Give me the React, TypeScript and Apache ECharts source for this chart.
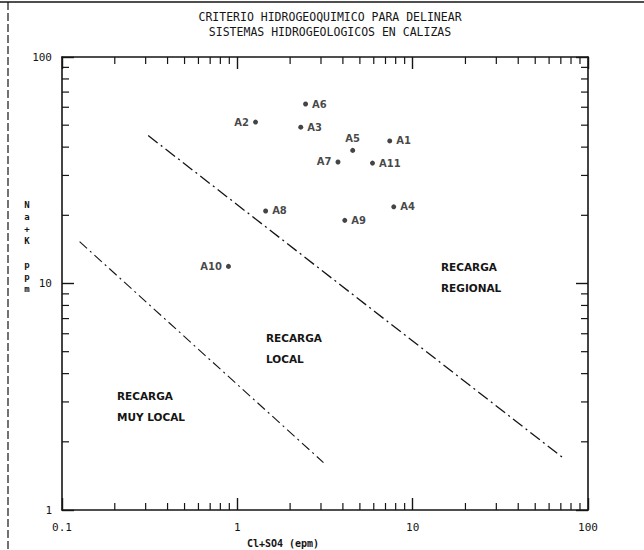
import React, { useEffect, useRef } from "react";
import * as echarts from "echarts";

// ---- data ----
const titleLines = ["CRITERIO HIDROGEOQUIMICO PARA DELINEAR", "SISTEMAS HIDROGEOLOGICOS EN CALIZAS"];
const xTitle = "Cl+SO4 (epm)";
const yTitleChars = ["N", "a", "+", "K", "", "p", "p", "m"];

const pointNames = ["A1", "A2", "A3", "A4", "A5", "A6", "A7", "A8", "A9", "A10", "A11"];
const pointX = [7.4, 1.27, 2.3, 7.8, 4.55, 2.45, 3.75, 1.45, 4.1, 0.89, 5.9];
const pointY = [42.6, 51.6, 49, 21.8, 38.7, 62, 34.4, 20.9, 19, 11.9, 34];
const labelPos = ["right", "left", "right", "right", "top", "right", "left", "right", "right", "left", "right"];

const upperLineX = [0.31, 72];
const upperLineY = [45, 1.7];
const lowerLineX = [0.126, 3.1];
const lowerLineY = [15.3, 1.62];

const xMin = 0.1, xMax = 100, yMin = 1, yMax = 100;
const xTickLabels = ["0.1", "1", "10", "100"];
const yTickLabels = ["1", "10", "100"];
const minorMultipliers = [2, 3, 4, 5, 6, 7, 8, 9];
const xDecades = [0.1, 1, 10];
const yDecades = [1, 10];

const regionTexts = [
  { lines: ["RECARGA", "REGIONAL"], x: 441, y: 267 },
  { lines: ["RECARGA", "LOCAL"], x: 266, y: 338 },
  { lines: ["RECARGA", "MUY LOCAL"], x: 117, y: 396 },
];

const INK = "#151515";
const MONO = "'DejaVu Sans Mono', monospace";
const SANS = "'DejaVu Sans', sans-serif";

export default function App() {
  const ref = useRef<HTMLDivElement>(null);
  useEffect(() => {
    document.body.style.margin = "0";
    const chart = echarts.init(ref.current!, null, { renderer: "svg" });

    const grid = { left: 62, top: 57, width: 526, height: 453 };

    const xMinorData: number[][] = [];
    xDecades.forEach((d) => minorMultipliers.forEach((m) => xMinorData.push([d * m, yMin])));
    const yMinorData: number[][] = [];
    yDecades.forEach((d) => minorMultipliers.forEach((m) => yMinorData.push([xMin, d * m])));

    const axisCommon = {
      type: "log" as const,
      logBase: 10,
      axisLine: { show: true, lineStyle: { color: INK, width: 1.6 } },
      axisTick: { show: true, inside: true, length: 12, lineStyle: { color: INK, width: 1.4 } },
      splitLine: { show: false },
      minorTick: { show: false },
    };

    const labelFmt = (arr: string[], base: number) => (v: number) => {
      const i = Math.round(Math.log10(v / base));
      return arr[i] ?? "";
    };

    const graphics: any[] = [];
    graphics.push({ type: "line", shape: { x1: 0, y1: 2, x2: 644, y2: 2 }, style: { stroke: INK, lineWidth: 1.5 } });
    graphics.push({ type: "line", shape: { x1: 8, y1: 2, x2: 8, y2: 550 }, style: { stroke: INK, lineWidth: 1.2, lineDash: [8, 3] } });
    titleLines.forEach((t, i) =>
      graphics.push({
        type: "text", x: 330, y: 17 + i * 15,
        style: { text: t, fill: INK, font: `11.5px ${MONO}`, textAlign: "center", textVerticalAlign: "middle" },
      })
    );
    graphics.push({
      type: "text", x: 283, y: 543,
      style: { text: xTitle, fill: INK, font: `bold 10px ${MONO}`, textAlign: "center", textVerticalAlign: "middle" },
    });
    yTitleChars.forEach((c, i) =>
      graphics.push({
        type: "text", x: 27, y: 205 + i * 12,
        style: { text: c, fill: INK, font: `bold 9px ${MONO}`, textAlign: "center", textVerticalAlign: "middle" },
      })
    );
    regionTexts.forEach((r) =>
      r.lines.forEach((l, i) =>
        graphics.push({
          type: "text", x: r.x, y: r.y + i * 21,
          style: { text: l, fill: INK, font: `bold 10.5px ${SANS}`, textAlign: "left", textVerticalAlign: "middle" },
        })
      )
    );

    chart.setOption({
      animation: false,
      backgroundColor: "#ffffff",
      grid,
      xAxis: [
        {
          ...axisCommon, min: xMin, max: xMax, position: "bottom",
          axisLabel: { show: true, margin: 12, color: INK, fontFamily: MONO, fontSize: 11, formatter: labelFmt(xTickLabels, xMin) },
        },
        { ...axisCommon, min: xMin, max: xMax, position: "top", axisLabel: { show: false } },
      ],
      yAxis: [
        {
          ...axisCommon, min: yMin, max: yMax, position: "left",
          axisLabel: { show: true, margin: 10, color: INK, fontFamily: MONO, fontSize: 11, formatter: labelFmt(yTickLabels, yMin) },
        },
        { ...axisCommon, min: yMin, max: yMax, position: "right", axisLabel: { show: false } },
      ],
      graphic: graphics,
      series: [
        {
          type: "custom", name: "xminor", xAxisIndex: 0, yAxisIndex: 0, silent: true, clip: false,
          data: xMinorData,
          renderItem: (params: any, api: any) => {
            const v = api.value(0);
            const b = api.coord([v, yMin]);
            const t = api.coord([v, yMax]);
            const st = { stroke: INK, lineWidth: 1.2 };
            return {
              type: "group",
              children: [
                { type: "line", shape: { x1: b[0], y1: b[1], x2: b[0], y2: b[1] - 7 }, style: st },
                { type: "line", shape: { x1: t[0], y1: t[1], x2: t[0], y2: t[1] + 7 }, style: st },
              ],
            };
          },
        },
        {
          type: "custom", name: "yminor", xAxisIndex: 0, yAxisIndex: 0, silent: true, clip: false,
          data: yMinorData,
          renderItem: (params: any, api: any) => {
            const v = api.value(1);
            const l = api.coord([xMin, v]);
            const r = api.coord([xMax, v]);
            const st = { stroke: INK, lineWidth: 1.2 };
            return {
              type: "group",
              children: [
                { type: "line", shape: { x1: l[0], y1: l[1], x2: l[0] + 7, y2: l[1] }, style: st },
                { type: "line", shape: { x1: r[0], y1: r[1], x2: r[0] - 7, y2: r[1] }, style: st },
              ],
            };
          },
        },
        {
          type: "line", name: "upper", symbol: "none",
          data: upperLineX.map((x, i) => [x, upperLineY[i]]),
          lineStyle: { color: INK, width: 1.3, type: [12, 4, 2, 4] },
        },
        {
          type: "line", name: "lower", symbol: "none",
          data: lowerLineX.map((x, i) => [x, lowerLineY[i]]),
          lineStyle: { color: INK, width: 1.1, type: [10, 4, 2, 4] },
        },
        {
          type: "scatter", name: "points", symbol: "circle", symbolSize: 5,
          itemStyle: { color: INK },
          data: pointNames.map((n, i) => ({
            name: n, value: [pointX[i], pointY[i]],
            label: { position: labelPos[i] },
          })),
          label: {
            show: true, formatter: "{b}", color: INK, fontFamily: SANS, fontWeight: "bold", fontSize: 10, distance: 4,
          },
        },
      ],
    });
    return () => chart.dispose();
  }, []);
  return <div ref={ref} style={{ width: 644, height: 550 }} />;
}
